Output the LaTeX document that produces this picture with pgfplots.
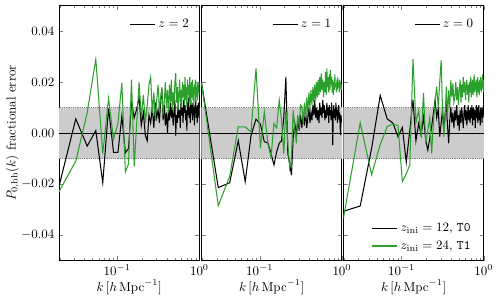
\documentclass[border=0pt]{standalone}
\usepackage{pgfplots}
\usepackage{pgfplotstable}
\pgfplotsset{compat=1.18}
\definecolor{mgreen}{HTML}{2CA02C}

\pgfplotstableread{
k b1 g1 b2 g2 b3 g3
0.0196 -0.021 -0.023 0.020 0.020 -0.0307 -0.0335
0.0314 0.0056 -0.011 -0.0214 -0.0285 -0.0286 0.004
0.0432 -0.0051 0.008 -0.0195 -0.017 -0.006 -0.0163
0.0550 0.001 0.029 -0.003 0.0025 0.0148 -0.0045
0.0668 -0.0195 -0.008 -0.019 0.0024 0.0056 0.0026
0.0786 0.0097 0.0136 -0.001 0.0005 0.0039 0.0035
0.0904 -0.0076 -0.0024 0.0055 0.0254 -0.0014 0.003
0.1022 -0.0076 0.0038 0.0035 -0.006 0.0022 -0.019
0.1140 0.0067 0.0197 -0.0034 0.0084 -0.0114 -0.016
0.1258 -0.0077 -0.0152 -0.0038 -0.004 0.001 -0.0125
0.1376 -0.006 -0.012 -0.008 -0.0095 0.013 0.029
0.1494 0.012 0.021 -0.0125 0.0038 -0.003 0.004
0.1612 0.006 -0.013 -0.0073 0.002 0.0038 0.009
0.1730 0.0095 0.004 -0.004 0.013 -0.0008 -0.0015
0.1848 0.014 0.020 -0.003 0.005 0.0064 0.0157
0.1966 0.003 0.006 0.006 -0.008 -0.0027 -0.004
0.2084 0.008 0.015 0.022 0.009 -0.0067 0.0012
0.2202 -0.001 0.004 -0.008 -0.004 -0.002 0.006
0.2320 -0.003 0.011 -0.012 -0.0138 0.0025 -0.008
0.2438 0.007 0.019 -0.0165 -0.010 0.008 0.004
0.2556 0.004 0.022 -0.002 0.009 0.013 0.013
0.2674 0.010 0.008 0.004 0.002 0.006 0.0182
0.2792 0.002 0.016 -0.001 -0.004 0.0095 0.010
0.2910 0.012 0.005 0.006 0.007 -0.0014 0.020
0.3028 0.006 0.013 0.001 0.003 0.004 0.0286
0.3146 0.009 0.019 0.007 0.011 0.009 0.009
0.3264 0.004 0.009 0.002 0.0103 0.001 -0.0015
0.3382 0.013 0.014 0.008 0.004 0.007 0.006
0.3500 0.0175 0.018 0.003 0.012 0.0116 0.0182
0.3618 0.005 0.007 0.009 0.006 0.003 0.0064
0.3736 0.011 0.012 0.002 0.014 -0.004 0.0168
0.3854 0.003 0.020 0.006 0.008 0.005 0.010
0.3972 0.008 0.010 0.010 0.016 0.0103 0.0208
0.4090 0.000 0.017 0.004 0.010 0.004 0.014
0.4208 0.009 0.008 0.008 0.0169 0.008 0.0195
0.4326 0.005 0.019 0.005 0.011 0.002 0.012
0.4444 0.012 0.012 0.011 0.018 0.009 0.0142
0.4562 0.006 0.021 0.007 0.012 0.005 0.020
0.4680 0.010 0.009 0.013 0.019 0.011 0.013
0.4798 0.003 0.016 0.006 0.013 0.003 0.018
0.4916 0.008 0.011 0.010 0.020 0.007 0.011
0.5034 0.013 0.020 0.005 0.014 0.001 0.017
0.5152 -0.001 0.0235 0.009 0.021 0.009 0.021
0.5270 0.007 0.012 0.004 0.015 0.004 0.012
0.5388 0.004 0.018 0.012 0.022 0.010 0.019
0.5506 0.011 0.009 0.007 0.016 0.006 0.014
0.5624 0.006 0.015 0.010 0.0234 0.002 0.022
0.5742 0.009 0.021 0.006 0.017 0.008 0.016
0.5860 0.002 0.012 0.013 0.021 0.011 0.020
0.5978 0.012 0.017 0.008 0.014 0.005 0.013
0.6096 0.007 0.010 0.011 0.020 0.009 0.018
0.6214 0.010 0.020 0.005 0.016 0.003 0.021
0.6332 0.004 0.014 0.009 0.024 0.007 0.015
0.6450 0.013 0.019 0.006 0.015 0.011 0.019
0.6568 0.008 0.011 0.012 0.0254 0.005 0.012
0.6686 0.011 0.022 0.007 0.018 0.009 0.020
0.6804 0.005 0.013 0.010 0.022 0.004 0.016
0.6922 0.009 0.018 0.004 0.016 0.010 0.022
0.7040 0.001 0.010 0.011 0.023 0.006 0.014
0.7158 0.012 0.021 0.007 0.017 0.011 0.018
0.7276 0.007 0.015 0.009 0.0247 0.003 0.021
0.7394 0.014 0.019 0.005 0.019 0.008 0.015
0.7512 0.006 0.012 0.012 0.022 0.010 0.019
0.7630 0.010 0.022 0.006 0.016 0.005 0.023
0.7748 0.004 0.016 -0.0047 0.021 0.009 0.016
0.7866 0.013 0.011 0.008 0.015 0.002 0.020
0.7984 0.008 0.020 0.011 0.020 0.007 0.017
0.8102 0.011 0.014 0.006 0.017 0.011 0.021
0.8220 0.005 0.021 0.009 0.023 0.006 0.014
0.8338 0.012 0.013 0.005 0.018 0.010 0.019
0.8456 0.007 0.018 0.012 0.0195 0.004 0.022
0.8574 0.010 0.011 0.007 0.016 0.009 0.016
0.8692 0.003 0.019 0.010 0.021 0.011 0.020
0.8810 0.011 0.015 0.004 0.017 0.005 0.015
0.8928 0.008 0.021 0.009 0.022 0.008 0.021
0.9046 0.013 0.012 0.006 0.018 0.003 0.017
0.9164 0.006 0.018 0.011 0.020 0.010 0.022
0.9282 0.010 0.014 0.005 0.016 0.006 0.016
0.9400 0.004 0.020 0.008 0.021 0.009 0.020
0.9518 0.011 0.013 0.003 0.018 0.004 0.018
0.9636 0.007 0.019 -0.0008 0.020 0.010 0.023
0.9754 0.012 0.016 0.007 0.017 0.006 0.017
0.9872 0.006 0.020 0.005 0.019 0.011 0.021
0.9990 0.009 0.015 0.006 0.017 0.007 0.016
}\mytab

\pgfplotsset{
  every axis/.append style={
    scale only axis, width=108bp, height=196bp,
    ymin=-0.05, ymax=0.05,
    ytick={-0.04,-0.02,0,0.02,0.04},
    scaled y ticks=false,
    tick align=inside, xtick pos=both, ytick pos=both,
    major tick length=3.2bp, minor tick length=1.8bp,
    axis line style={line width=0.6pt},
    legend cell align=left,
  },
  every axis legend/.append style={draw=none, fill=none, inner sep=0pt, row sep=1.5bp},
  yticklabel style={/pgf/number format/fixed, /pgf/number format/fixed zerofill, /pgf/number format/precision=2},
  xlabel style={at={(axis description cs:0.5,-0.104)}, anchor=center},
  legend image code/.code={\draw[#1] (0cm,0cm) -- (0.68cm,0cm);},
}

\begin{document}
\begin{tikzpicture}
% panel 1
\begin{axis}[xmode=log, xmin=0.019635, xmax=1, at={(0bp,0bp)}, anchor=south west,
  xlabel={$k\,[h\,\mathrm{Mpc}^{-1}]$},
  ylabel={$P_{0,\mathrm{hh}}(k)$ fractional error},
  ylabel style={at={(axis description cs:-0.331,0.5)}, anchor=center},
  legend style={at={(1,1)}, anchor=north east, xshift=-6bp, yshift=-8bp}]
\addplot[fill=black!20, draw=none, forget plot] coordinates {(0.01,-0.01) (2,-0.01) (2,0.01) (0.01,0.01) (0.01,-0.01)};
\addplot[black!50, densely dotted, line width=0.4pt, forget plot] coordinates {(0.01,0.01) (2,0.01)};
\addplot[black!50, densely dotted, line width=0.4pt, forget plot] coordinates {(0.01,-0.01) (2,-0.01)};
\addplot[black, line width=0.8pt, forget plot] coordinates {(0.01,0) (2,0)};
\addplot[black, line width=0.8pt] table[x=k, y=b1] {\mytab};
\addlegendentry{$z = 2$}
\addplot[mgreen, line width=0.8pt, forget plot] table[x=k, y=g1] {\mytab};
\end{axis}
% panel 2
\begin{axis}[xmode=log, xmin=0.019635, xmax=1, at={(109.6bp,0bp)}, anchor=south west, yticklabels={},
  xlabel={$k\,[h\,\mathrm{Mpc}^{-1}]$},
  legend style={at={(1,1)}, anchor=north east, xshift=-6bp, yshift=-8bp}]
\addplot[fill=black!20, draw=none, forget plot] coordinates {(0.01,-0.01) (2,-0.01) (2,0.01) (0.01,0.01) (0.01,-0.01)};
\addplot[black!50, densely dotted, line width=0.4pt, forget plot] coordinates {(0.01,0.01) (2,0.01)};
\addplot[black!50, densely dotted, line width=0.4pt, forget plot] coordinates {(0.01,-0.01) (2,-0.01)};
\addplot[black, line width=0.8pt, forget plot] coordinates {(0.01,0) (2,0)};
\addplot[black, line width=0.8pt] table[x=k, y=b2] {\mytab};
\addlegendentry{$z = 1$}
\addplot[mgreen, line width=0.8pt, forget plot] table[x=k, y=g2] {\mytab};
\end{axis}
% panel 3
\begin{axis}[xmode=log, xmin=0.019635, xmax=1, at={(218.8bp,0bp)}, anchor=south west, yticklabels={},
  xlabel={$k\,[h\,\mathrm{Mpc}^{-1}]$},
  legend style={at={(1,0)}, anchor=south east, xshift=-8bp, yshift=5bp}]
\addplot[fill=black!20, draw=none, forget plot] coordinates {(0.01,-0.01) (2,-0.01) (2,0.01) (0.01,0.01) (0.01,-0.01)};
\addplot[black!50, densely dotted, line width=0.4pt, forget plot] coordinates {(0.01,0.01) (2,0.01)};
\addplot[black!50, densely dotted, line width=0.4pt, forget plot] coordinates {(0.01,-0.01) (2,-0.01)};
\addplot[black, line width=0.8pt, forget plot] coordinates {(0.01,0) (2,0)};
\addplot[black, line width=0.8pt] table[x=k, y=b3] {\mytab};
\addlegendentry{$z_{\mathrm{ini}} = 12$, \texttt{T0}}
\addplot[mgreen, line width=0.8pt] table[x=k, y=g3] {\mytab};
\addlegendentry{$z_{\mathrm{ini}} = 24$, \texttt{T1}}
\end{axis}
\begin{axis}[xmode=log, xmin=0.019635, xmax=1, at={(218.8bp,0bp)}, anchor=south west, hide axis,
  legend style={at={(1,1)}, anchor=north east, xshift=-6bp, yshift=-8bp}]
\addplot[draw=none, forget plot] coordinates {(0.1,0)};
\addlegendimage{black, line width=0.8pt}
\addlegendentry{$z = 0$}
\end{axis}
\pgfresetboundingbox
\path[use as bounding box] (-45.4bp,-29.6bp) rectangle (337.7bp,200.4bp);
\end{tikzpicture}
\end{document}
